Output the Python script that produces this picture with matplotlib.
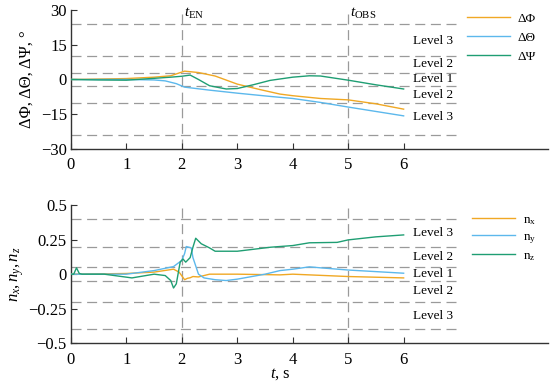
import matplotlib
matplotlib.use("Agg")
import matplotlib.pyplot as plt
import numpy as np

plt.rcParams['font.family'] = ['Liberation Serif', 'DejaVu Serif']
plt.rcParams['mathtext.fontset'] = 'custom'
plt.rcParams['mathtext.rm'] = 'Liberation Serif'
plt.rcParams['mathtext.it'] = 'Liberation Serif:italic'
plt.rcParams['mathtext.bf'] = 'Liberation Serif:bold'

# ---- Data: top panel (angle deviations, degrees) ----
t_phi = [0, 0.5, 1.0, 1.5, 1.8, 2.05, 2.3, 2.6, 3.0, 3.4, 3.77, 4.0, 4.5, 5.0, 5.5, 6.0]
d_phi = [0, 0.2, 0.4, 1.0, 1.6, 3.6, 3.0, 1.5, -2.0, -4.3, -6.3, -7.0, -8.2, -8.8, -10.5, -12.8]

t_theta = [0, 0.5, 1.0, 1.5, 1.7, 1.9, 2.05, 2.5, 3.0, 3.59, 4.0, 4.5, 5.0, 5.5, 6.0]
d_theta = [0, 0, 0, -0.2, -0.6, -1.8, -3.3, -4.6, -5.9, -7.3, -8.2, -9.9, -11.9, -13.8, -15.7]

t_psi = [0, 0.5, 1.0, 1.5, 1.8, 2.0, 2.15, 2.3, 2.5, 2.8, 3.0, 3.3, 3.59, 4.0, 4.3, 4.5, 5.0, 5.5, 6.0]
d_psi = [0, -0.2, -0.3, 0.5, 1.0, 1.4, 1.9, 0.0, -2.7, -4.1, -3.9, -2.2, -0.4, 1.0, 1.6, 1.5, -0.3, -2.3, -4.1]

# ---- Data: bottom panel (load factors) ----
t_nx = [0, 0.5, 1.0, 1.5, 1.85, 1.95, 2.05, 2.1, 2.15, 2.2, 2.3, 2.5, 3.0, 3.77, 4.0, 5.0, 6.0]
n_x = [0, 0.002, 0.005, 0.015, 0.036, 0.015, -0.04, -0.03, -0.026, -0.017, -0.02, 0.0, 0.0, -0.005, 0.0, -0.017, -0.027]

t_ny = [0, 0.5, 1.0, 1.5, 1.85, 2.0, 2.05, 2.08, 2.17, 2.2, 2.3, 2.4, 2.6, 2.8, 3.0, 3.5, 3.77, 4.0, 4.3, 4.5, 5.0, 6.0]
n_y = [0, 0.0, 0.0, 0.026, 0.055, 0.10, 0.15, 0.20, 0.19, 0.12, 0.0, -0.027, -0.04, -0.046, -0.036, 0.0, 0.026, 0.036, 0.053, 0.046, 0.03, 0.007]

t_nz = [0, 0.05, 0.1, 0.15, 0.2, 0.6, 1.1, 1.5, 1.7, 1.8, 1.85, 1.9, 1.97, 2.02, 2.07, 2.15, 2.2, 2.25,
        2.35, 2.5, 2.6, 3.0, 3.6, 4.0, 4.3, 4.8, 5.0, 5.5, 6.0]
n_z = [0, 0.0, 0.046, 0.005, 0.0, 0.0, -0.027, 0.0, -0.01, -0.046, -0.10, -0.07, 0.087, 0.11, 0.087, 0.12, 0.195, 0.26,
       0.22, 0.19, 0.166, 0.166, 0.195, 0.207, 0.227, 0.23, 0.248, 0.27, 0.284]

xticks = [0, 1, 2, 3, 4, 5, 6]
top_levels = [3, 10, 24]
bot_levels = [0.05, 0.2, 0.4]
top_level_text_y = [16.5, 6.5, 0, -6.8, -16.3]
bot_level_text_y = [0.30, 0.125, 0, -0.12, -0.30]
level_names = ["Level 3", "Level 2", "Level 1", "Level 2", "Level 3"]
events = [2, 5]

c_orange = '#F0A824'
c_blue = '#5CB8EC'
c_green = '#1F9E73'
grid_c = '#9a9a9a'
spine_c = '#333333'
dash = (0, (8, 4.5))

fig = plt.figure(figsize=(5.5, 3.84), dpi=100)
ax1 = fig.add_axes([0.129, 0.612, 0.867, 0.362])
ax2 = fig.add_axes([0.129, 0.106, 0.867, 0.36])

def style(ax):
    for s in ['top', 'right']:
        ax.spines[s].set_visible(False)
    for s in ['left', 'bottom']:
        ax.spines[s].set_color(spine_c)
        ax.spines[s].set_linewidth(1.0)
    ax.tick_params(direction='in', length=4, width=0.8, colors=spine_c, labelsize=12, labelcolor='black')
    ax.tick_params(axis='x', pad=6)
    ax.tick_params(axis='y', pad=3)
    ax.set_xlim(0, 8.6)
    ax.set_xticks(xticks)
    ax.set_xticklabels([str(v) for v in xticks])

# Top panel
style(ax1)
ax1.set_ylim(-30, 30)
ax1.set_yticks([-30, -15, 0, 15, 30])
ax1.set_yticklabels(['\u221230', '\u221215', '0', '15', '30'])
for lv in top_levels:
    for s in (1, -1):
        ax1.plot([0, 7], [s * lv, s * lv], ls=dash, color=grid_c, lw=0.9, zorder=1)
for e in events:
    ax1.axvline(e, ls=dash, color=grid_c, lw=0.9, zorder=1)
ax1.plot(t_phi, d_phi, color=c_orange, lw=1.0, label='\u0394\u03a6', zorder=3)
ax1.plot(t_theta, d_theta, color=c_blue, lw=1.0, label='\u0394\u0398', zorder=3)
ax1.plot(t_psi, d_psi, color=c_green, lw=1.0, label='\u0394\u03a8', zorder=3)
for y, name in zip(top_level_text_y, level_names):
    ax1.text(6.17, y, name, fontsize=9.5, va='center', ha='left')
ax1.text(2.03, 28.3, r'$t_{\mathrm{EN}}$', fontsize=11, ha='left', va='center')
ax1.text(5.03, 28.3, r'$t_{\mathrm{OBS}}$', fontsize=11, ha='left', va='center')
ax1.set_ylabel('\u0394\u03a6, \u0394\u0398, \u0394\u03a8, \u00b0', fontsize=12, labelpad=4)
ax1.legend(loc='upper right', bbox_to_anchor=(1.0, 1.066), frameon=False, fontsize=9.5,
           handlelength=3.2, handletextpad=0.6, labelspacing=0.5)

# Bottom panel
style(ax2)
ax2.set_ylim(-0.5, 0.5)
ax2.set_yticks([-0.5, -0.25, 0, 0.25, 0.5])
ax2.set_yticklabels(['\u22120.5', '\u22120.25', '0', '0.25', '0.5'])
for lv in bot_levels:
    for s in (1, -1):
        ax2.plot([0, 7], [s * lv, s * lv], ls=dash, color=grid_c, lw=0.9, zorder=1)
for e in events:
    ax2.axvline(e, ls=dash, color=grid_c, lw=0.9, zorder=1)
ax2.plot(t_nx, n_x, color=c_orange, lw=1.0, label=r'n$_{\mathrm{x}}$', zorder=3)
ax2.plot(t_ny, n_y, color=c_blue, lw=1.0, label=r'n$_{\mathrm{y}}$', zorder=3)
ax2.plot(t_nz, n_z, color=c_green, lw=1.0, label=r'n$_{\mathrm{z}}$', zorder=3)
for y, name in zip(bot_level_text_y, level_names):
    ax2.text(6.17, y, name, fontsize=9.5, va='center', ha='left')
ax2.set_ylabel(r'$n_x, n_y, n_z$', fontsize=12, labelpad=2)
ax2.set_xlabel(r'$t$, s', fontsize=12)
ax2.xaxis.set_label_coords(0.44, -0.165)
ax2.legend(loc='upper right', bbox_to_anchor=(1.0, 1.025), frameon=False, fontsize=9.5,
           handlelength=3.2, handletextpad=0.6, labelspacing=0.3)

fig.savefig('out.png', dpi=100)
